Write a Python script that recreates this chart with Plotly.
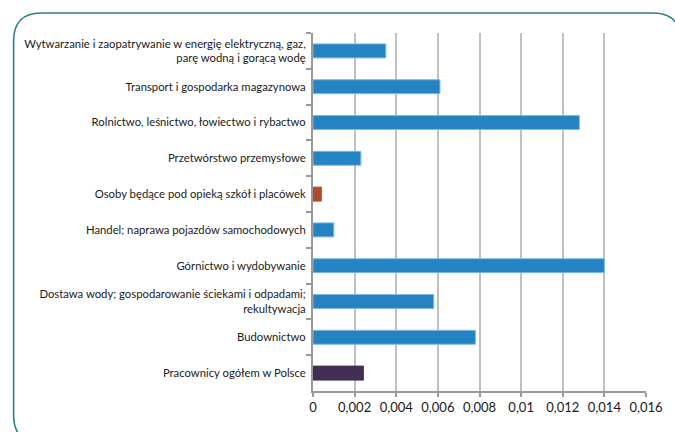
import plotly.graph_objects as go

categories = [
    "Wytwarzanie i zaopatrywanie w energię elektryczną, gaz,<br>parę wodną i gorącą wodę",
    "Transport i gospodarka magazynowa",
    "Rolnictwo, leśnictwo, łowiectwo i rybactwo",
    "Przetwórstwo przemysłowe",
    "Osoby będące pod opieką szkół i placówek",
    "Handel; naprawa pojazdów samochodowych",
    "Górnictwo i wydobywanie",
    "Dostawa wody; gospodarowanie ściekami i odpadami;<br>rekultywacja",
    "Budownictwo",
    "Pracownicy ogółem w Polsce",
]
values = [0.0035, 0.0061, 0.0128, 0.0023, 0.0004, 0.0010, 0.0140, 0.0058, 0.0078, 0.00242]
colors = ["#2383c3", "#2383c3", "#2383c3", "#2383c3", "#b24a2a",
          "#2383c3", "#2383c3", "#2383c3", "#2383c3", "#432e54"]
edge_colors = ["#7fb9e3", "#7fb9e3", "#7fb9e3", "#7fb9e3", "#b24a2a",
               "#7fb9e3", "#7fb9e3", "#7fb9e3", "#7fb9e3", "#432e54"]
x_tickvals = [0, 0.002, 0.004, 0.006, 0.008, 0.01, 0.012, 0.014, 0.016]
x_ticktext = ["0", "0,002", "0,004", "0,006", "0,008", "0,01", "0,012", "0,014", "0,016"]

W, H = 675, 432
ML, MR, MT, MB = 313, 25, 33, 41
PW, PH = W - ML - MR, H - MT - MB

def px(x):
    return round((x - ML) / PW, 4)

def py(y):
    return round((H - MB - y) / PH, 4)

fig = go.Figure(go.Bar(
    x=values, y=categories, orientation="h",
    marker=dict(color=colors, line=dict(color=edge_colors, width=1)),
))

# rounded frame around the chart (pixel geometry converted to paper coords)
L, T, R, B, r = 10, 13, 685, 443, 28
path = (
    f"M{px(L)},{py(T + r)} "
    f"Q{px(L)},{py(T)} {px(L + r)},{py(T)} "
    f"L{px(R - r)},{py(T)} "
    f"Q{px(R)},{py(T)} {px(R)},{py(T + r)} "
    f"L{px(R)},{py(B - r)} "
    f"Q{px(R)},{py(B)} {px(R - r)},{py(B)} "
    f"L{px(L + r)},{py(B)} "
    f"Q{px(L)},{py(B)} {px(L)},{py(B - r)}Z"
)
fig.add_shape(type="path", path=path, xref="paper", yref="paper",
              line=dict(color="#2f8088", width=1.6),
              fillcolor="rgba(0,0,0,0)", layer="above")

fig.update_layout(
    width=W, height=H,
    margin=dict(l=ML, r=MR, t=MT, b=MB, pad=0),
    paper_bgcolor="white", plot_bgcolor="white",
    bargap=0.61, showlegend=False,
    font=dict(family="Lato, Open Sans, sans-serif", color="#1a1a1a"),
)
fig.update_xaxes(
    range=[0, 0.016], tickmode="array", tickvals=x_tickvals, ticktext=x_ticktext,
    showgrid=True, gridcolor="#c0c0c0", gridwidth=1.5,
    showline=True, linecolor="#999999", linewidth=1.5,
    ticks="outside", ticklen=4, tickcolor="#999999", tickwidth=1.5,
    tickfont=dict(size=13, color="#1a1a1a"), zeroline=False,
)
fig.update_yaxes(
    autorange="reversed", tickson="boundaries",
    showline=True, linecolor="#999999", linewidth=2,
    ticks="outside", ticklen=5, tickcolor="#999999", tickwidth=1.5,
    showgrid=False, tickfont=dict(size=11.3, color="#1a1a1a"),
    ticklabelstandoff=3,
)

fig.write_html("out.html", config={"displayModeBar": False},
               post_script="document.body.style.margin='0';document.body.style.overflow='hidden';")
